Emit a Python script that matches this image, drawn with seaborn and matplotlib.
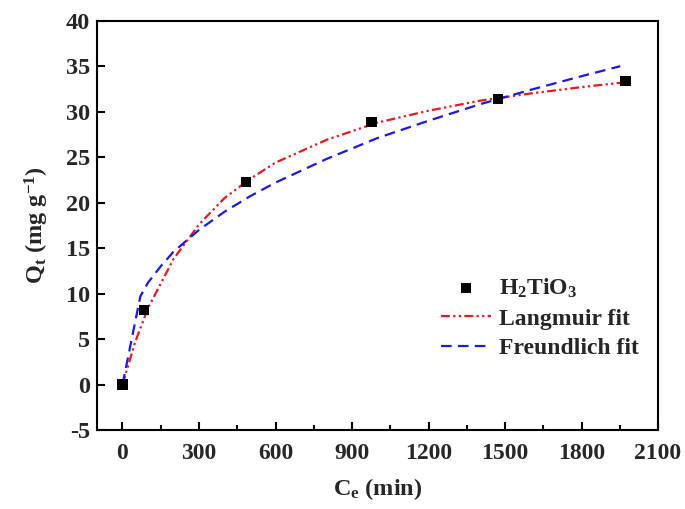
import matplotlib
matplotlib.use("Agg")
import matplotlib.pyplot as plt
from matplotlib.ticker import MultipleLocator
import seaborn as sns

# measured points (C_e in min, Q_t in mg/g)
ce_points = [0, 85, 484, 976, 1473, 1972]
qt_points = [0.0, 8.2, 22.3, 28.9, 31.4, 33.4]

# Langmuir fit curve
lang_x = [0, 50, 100, 200, 300, 400, 500, 600, 800, 1000, 1200, 1400, 1600, 1800, 1960]
lang_y = [0.0, 4.7, 8.4, 13.8, 17.6, 20.5, 22.6, 24.4, 26.9, 28.8, 30.1, 31.2, 32.0, 32.7, 33.2]

# Freundlich fit curve
freu_x = [0, 70, 100, 150, 200, 300, 400, 500, 600, 800, 1000, 1200, 1400, 1600, 1800, 1952]
freu_y = [0.0, 9.7, 11.2, 13.0, 14.6, 17.0, 19.0, 20.7, 22.2, 24.8, 27.1, 29.0, 30.8, 32.4, 33.9, 35.0]

x_ticks = [0, 300, 600, 900, 1200, 1500, 1800, 2100]
y_ticks = [-5, 0, 5, 10, 15, 20, 25, 30, 35, 40]

sns.set_theme(style="ticks")
plt.rcParams['font.family'] = ['Liberation Serif', 'DejaVu Serif']
plt.rcParams['font.weight'] = 'bold'
plt.rcParams['axes.unicode_minus'] = False
plt.rcParams['mathtext.fontset'] = 'custom'
plt.rcParams['mathtext.rm'] = 'Liberation Serif:bold'
plt.rcParams['mathtext.it'] = 'Liberation Serif:bold'
plt.rcParams['mathtext.bf'] = 'Liberation Serif:bold'

fig = plt.figure(figsize=(6.85, 5.09), dpi=100)
ax = fig.add_axes([0.1416, 0.1552, 0.819, 0.8041])

sns.scatterplot(x=ce_points, y=qt_points, ax=ax, marker='s', s=55, color='black',
                edgecolor='none', label=r'H$_\mathrm{2}$TiO$_\mathrm{3}$', zorder=3)
sns.lineplot(x=lang_x, y=lang_y, ax=ax, color='#e8191e', linewidth=1.6,
             linestyle=(0, (4, 1.5, 1, 1.5, 1, 1.5)), label='Langmuir fit', zorder=2)
sns.lineplot(x=freu_x, y=freu_y, ax=ax, color='#1a1ae0', linewidth=1.6,
             linestyle=(0, (4.8, 2.8)), label='Freundlich fit', zorder=2)

ax.set_xlim(-100, 2100)
ax.set_ylim(-5, 40)
ax.set_xticks(x_ticks)
ax.set_yticks(y_ticks)
ax.xaxis.set_minor_locator(MultipleLocator(150))
ax.tick_params(which='both', direction='in', top=False, right=False, width=1.5, color='black')
ax.tick_params(which='major', length=6)
ax.tick_params(which='minor', length=3.5)
ax.tick_params(axis='x', which='major', pad=9, labelsize=17)
ax.tick_params(axis='y', which='major', pad=5, labelsize=17.5)
for lab in ax.get_xticklabels() + ax.get_yticklabels():
    lab.set_fontweight('bold')
for sp in ax.spines.values():
    sp.set_linewidth(1.5)
    sp.set_color('black')

ax.set_xlabel(r'C$_\mathrm{e}$ (min)', fontsize=17.5, fontweight='bold', labelpad=9)
ax.set_ylabel('Q$_\\mathrm{t}$ (mg g$^{\\mathrm{-1}}$)', fontsize=17.5, fontweight='bold', labelpad=11)

leg = ax.legend(loc='upper left', bbox_to_anchor=(0.614, 0.375), frameon=False,
                fontsize=17, handlelength=2.1, handletextpad=0.35, labelspacing=0.35,
                borderaxespad=0, borderpad=0)
for t in leg.get_texts():
    t.set_fontweight('bold')

fig.savefig('out.png', dpi=100)
